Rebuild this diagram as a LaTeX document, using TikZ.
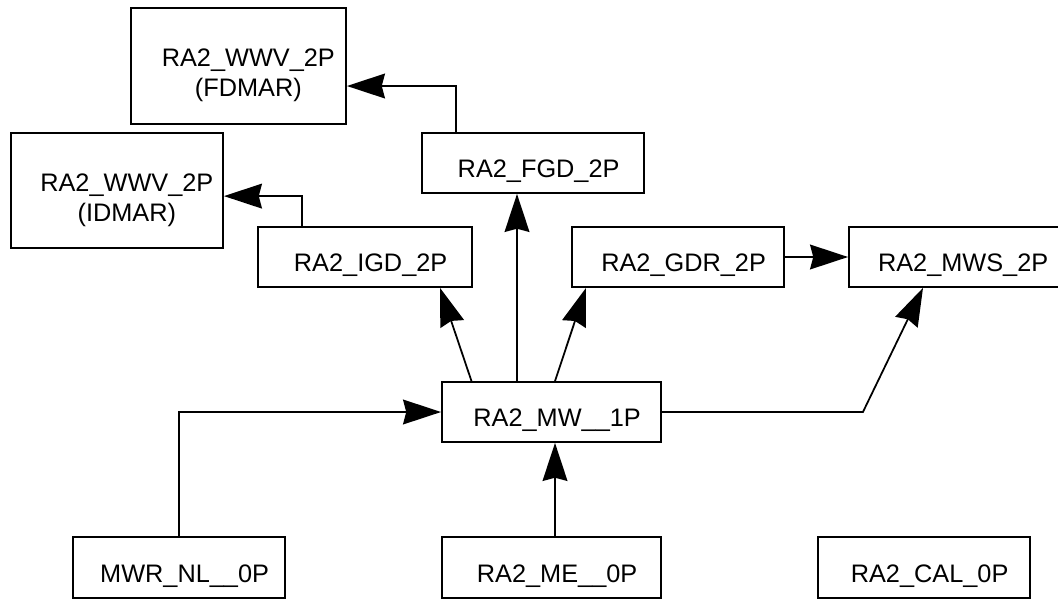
\documentclass[tikz,border=0pt]{standalone}
\usepackage{fontspec}
\setmainfont{Liberation Sans}
\usetikzlibrary{arrows.meta}

\tikzset{
  box/.style={draw, line width=1.3pt, inner sep=0pt, font=\fontsize{18}{21.5}\selectfont},
  single/.style={box, minimum height=1.5cm, text height=21pt, text depth=0pt,
    execute at begin node={\hspace*{8pt}}},
  double/.style={box, align=center, text height=44pt, text depth=0pt},
  arr/.style={line width=1.25pt, -{Stealth[length=0.95cm,width=0.62cm,inset=0.08cm]}}
}

\begin{document}
\begin{tikzpicture}[x=0.025cm, y=-0.025cm]
            \useasboundingbox (0,0) rectangle (1058,599);

            \node[double, minimum width=5.375cm, minimum height=2.9cm] (fdmar) at (238.5,66) {\hspace*{14pt}RA2\_WWV\_2P\\\hspace*{14pt}(FDMAR)};
            \node[double, minimum width=5.3cm, minimum height=2.875cm] (idmar) at (117,190.5) {\hspace*{14pt}RA2\_WWV\_2P\\\hspace*{14pt}(IDMAR)};

            \node[single, minimum width=5.55cm] (fgd) at (533,163) {RA2\_FGD\_2P};
            \node[single, minimum width=5.35cm] (igd) at (365,257) {RA2\_IGD\_2P};
            \node[single, minimum width=5.3cm] (gdr) at (678,257) {RA2\_GDR\_2P};
            \node[single, minimum width=5.425cm] (mws) at (957.5,257) {RA2\_MWS\_2P};

            \node[single, minimum width=5.475cm] (mw) at (551.5,412) {RA2\_MW\_\_1P};

            \node[single, minimum width=5.3cm, minimum height=1.525cm] (mwr) at (179,567.5) {MWR\_NL\_\_0P};
            \node[single, minimum width=5.475cm, minimum height=1.525cm] (me) at (551.5,567.5) {RA2\_ME\_\_0P};
            \node[single, minimum width=5.3cm, minimum height=1.525cm] (cal) at (924,567.5) {RA2\_CAL\_0P};

            \draw[arr] ([xshift=-1.925cm]fgd.north) |- ([yshift=-0.5cm]fdmar.east);
            \draw[arr] ([xshift=-1.575cm]igd.north) |- ([yshift=-0.14cm]idmar.east);

            \draw[arr] ([xshift=-2cm]mw.north) -- ([xshift=1.875cm]igd.south);
            \draw[arr] ([xshift=-0.8625cm]mw.north) -- ([xshift=-0.4cm]fgd.south);
            \draw[arr] ([xshift=0.0875cm]mw.north) -- ([xshift=-2.3cm]gdr.south);
            \draw[arr] (mw.east) -- ++(201,0) -- ([xshift=-0.8625cm]mws.south);
            \draw[arr] (gdr.east) -- (mws.west);

            \draw[arr] (mwr.north) |- (mw.west);
            \draw[arr] ([xshift=0.0875cm]me.north) -- ([xshift=0.0875cm]mw.south);
        \end{tikzpicture}
\end{document}
